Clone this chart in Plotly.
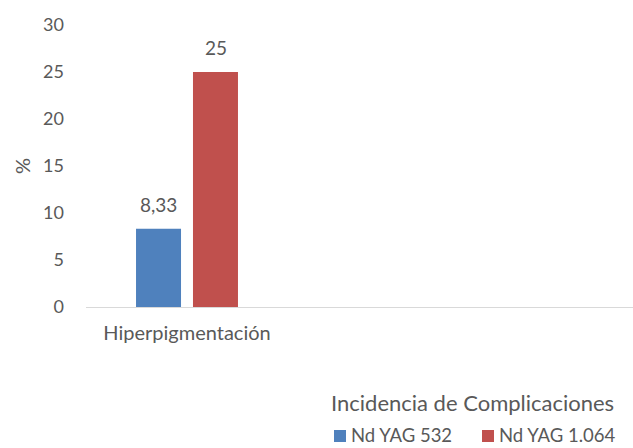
import plotly.graph_objects as go

categories = ["Hiperpigmentación"]
series_names = ["Nd YAG 532", "Nd YAG 1.064"]
series_colors = ["#4F81BD", "#C0504D"]
values_532 = [8.33]
values_1064 = [25]
labels_532 = ["8,33"]
labels_1064 = ["25"]
y_ticks = [0, 5, 10, 15, 20, 25, 30]
legend_title = "Incidencia de Complicaciones"

FONT = "Lato, 'Open Sans', sans-serif"
GRAY = "#595959"
W, H = 633, 448
ML, MR, MT, MB = 86, 0, 25, 141


def px_x(px):
    return (px - ML) / (W - ML - MR)


def px_y(py):
    return (H - MB - py) / (H - MT - MB)


fig = go.Figure()
fig.add_trace(go.Bar(x=categories, y=values_532, name=series_names[0],
                     marker=dict(color=series_colors[0], line=dict(width=0))))
fig.add_trace(go.Bar(x=categories, y=values_1064, name=series_names[1],
                     marker=dict(color=series_colors[1], line=dict(width=0))))

# data labels above bars
for trace_idx, (vals, labs) in enumerate([(values_532, labels_532), (values_1064, labels_1064)]):
    for cat, v, lab in zip(categories, vals, labs):
        fig.add_annotation(x=cat, y=v, text=lab, showarrow=False, yanchor="bottom",
                           xref="x", yref="y", yshift=11,
                           xshift=(-28.5 if trace_idx == 0 else 28.5),
                           font=dict(size=19, color=GRAY, family=FONT))

# legend drawn manually (title above, items below)
fig.add_annotation(text=legend_title, xref="paper", yref="paper", x=px_x(329), y=px_y(402),
                   xanchor="left", yanchor="middle", showarrow=False,
                   font=dict(size=22, color=GRAY, family=FONT))
item_x = [334, 482]
for name, color, x0 in zip(series_names, series_colors, item_x):
    fig.add_shape(type="rect", xref="paper", yref="paper",
                  x0=px_x(x0), x1=px_x(x0 + 12), y0=px_y(442), y1=px_y(430),
                  fillcolor=color, line=dict(width=0))
    fig.add_annotation(text=name, xref="paper", yref="paper", x=px_x(x0 + 15), y=px_y(435),
                       xanchor="left", yanchor="middle", showarrow=False,
                       font=dict(size=18.5, color=GRAY, family=FONT))

fig.update_layout(
    width=W, height=H,
    margin=dict(l=ML, r=MR, t=MT, b=MB, autoexpand=False),
    paper_bgcolor="white", plot_bgcolor="white",
    barmode="group", bargap=0.436, bargroupgap=0.21,
    font=dict(family=FONT, color=GRAY, size=16),
    showlegend=False,
    xaxis=dict(type="category", range=[-0.5, 2.208], showline=True, linecolor="#D9D9D9",
               linewidth=1, ticks="", showgrid=False, zeroline=False,
               tickfont=dict(size=20, color=GRAY, family=FONT), ticklabelstandoff=8),
    yaxis=dict(range=[0, 30], tickvals=y_ticks, showgrid=False, zeroline=False,
               showline=False, ticks="", tickfont=dict(size=18, color=GRAY, family=FONT),
               ticklabelstandoff=21,
               title=dict(text="%", font=dict(size=20, color=GRAY, family=FONT), standoff=7)),
)

fig.write_html("out.html", config={"displayModeBar": False},
               post_script="document.body.style.margin='0';")
